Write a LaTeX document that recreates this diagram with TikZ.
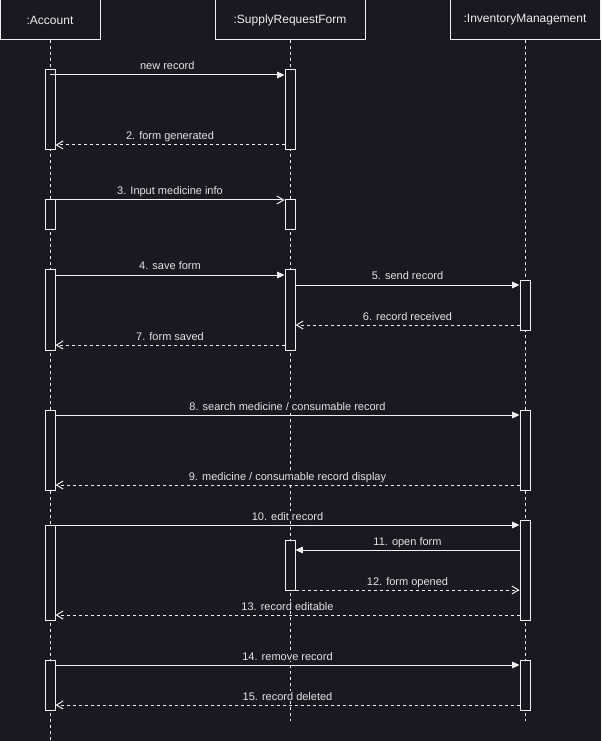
\documentclass[tikz,border=0pt]{standalone}
\usepackage{fontspec}
\setmainfont{Liberation Sans}
\usetikzlibrary{arrows.meta}
\definecolor{bg}{RGB}{26,24,32}
\definecolor{fg}{RGB}{240,240,240}
\definecolor{txt}{RGB}{228,228,228}
\tikzset{
  head/.style={draw=fg, fill=bg, line width=0.75pt, text=fg, minimum height=30pt, inner sep=0pt, font=\fontsize{9}{11}\selectfont},
  act/.style={draw=fg, fill=bg, line width=0.75pt, minimum width=7.5pt, inner sep=0pt},
  life/.style={fg, line width=0.75pt, dash pattern=on 2.25pt off 2.25pt},
  call/.style={fg, line width=0.75pt, -{Triangle[length=5.5pt,width=5pt]}},
  async/.style={fg, line width=0.75pt, -{Straight Barb[length=5pt,width=6pt]}},
  reply/.style={async, dash pattern=on 2.25pt off 2.25pt},
  lbl/.style={midway, anchor=base, yshift=3.75pt, text=txt, fill=bg, inner xsep=1pt, inner ysep=1pt, font=\fontsize{8.25}{10}\selectfont}
}
\begin{document}
\begin{tikzpicture}[x=0.75pt,y=-0.75pt]
\fill[bg] (0,0) rectangle (601,741); %background
\useasboundingbox (0,0) rectangle (601,741);

% lifeline heads
\node[head, minimum width=75pt] (acc) at (50,20) {:Account};
\node[head, minimum width=112.5pt] (srf) at (290,20) {:SupplyRequestForm};
\node[head, minimum width=112.5pt] (inv) at (525,20) {:InventoryManagement};

\coordinate (bot) at (0,741);
\coordinate (end) at (0,721);
\draw[life] (acc.south) -- (acc |- bot);
\draw[life] (srf.south) -- (srf |- end);
\draw[life] (inv.south) -- (inv |- end);

% activations
\node[act, minimum height=60pt] (a1) at (50,110) {};
\node[act, minimum height=22.5pt] (a2) at (50,215) {};
\node[act, minimum height=60pt] (a3) at (50,310) {};
\node[act, minimum height=60pt] (a4) at (50,450) {};
\node[act, minimum height=71.25pt] (a5) at (50,572.5) {};
\node[act, minimum height=37.5pt] (a6) at (50,685) {};
\node[act, minimum height=60pt] (s1) at (290,110) {};
\node[act, minimum height=22.5pt] (s2) at (290,215) {};
\node[act, minimum height=60pt] (s3) at (290,310) {};
\node[act, minimum height=37.5pt] (s4) at (290,565) {};
\node[act, minimum height=37.5pt] (i1) at (525,305) {};
\node[act, minimum height=60pt] (i2) at (525,450) {};
\node[act, minimum height=75pt] (i3) at (525,570) {};
\node[act, minimum height=37.5pt] (i4) at (525,685) {};

% message rows
\coordinate (m1) at (0,75);
\coordinate (m2) at (0,145);
\coordinate (m3) at (0,200);
\coordinate (m4) at (0,275);
\coordinate (m5) at (0,285);
\coordinate (m6) at (0,325);
\coordinate (m7) at (0,345);
\coordinate (m8) at (0,415);
\coordinate (m9) at (0,485);
\coordinate (m10) at (0,525);
\coordinate (m11) at (0,550);
\coordinate (m12) at (0,590);
\coordinate (m13) at (0,615);
\coordinate (m14) at (0,665);
\coordinate (m15) at (0,705);

\draw[call] (a1 |- m1) -- (s1.west |- m1) node[lbl] {new record};
\draw[reply] (s1.west |- m2) -- (a1.east |- m2) node[lbl] {2. form generated};
\draw[async] (a2.east |- m3) -- (s2.west |- m3) node[lbl] {3. Input medicine info};
\draw[call] (a3.east |- m4) -- (s3.west |- m4) node[lbl] {4. save form};
\draw[call] (s3.east |- m5) -- (i1.west |- m5) node[lbl] {5. send record};
\draw[reply] (i1.west |- m6) -- (s3.east |- m6) node[lbl] {6. record received};
\draw[reply] (s3.west |- m7) -- (a3.east |- m7) node[lbl] {7. form saved};
\draw[call] (a4.east |- m8) -- (i2.west |- m8) node[lbl] {8. search medicine / consumable record};
\draw[reply] (i2.west |- m9) -- (a4.east |- m9) node[lbl] {9. medicine / consumable record display};
\draw[call] (a5.east |- m10) -- (i3.west |- m10) node[lbl] {10. edit record};
\draw[call] (i3.west |- m11) -- (s4.east |- m11) node[lbl] {11. open form};
\draw[reply] (s4.east |- m12) -- (i3.west |- m12) node[lbl] {12. form opened};
\draw[reply] (i3.west |- m13) -- (a5.east |- m13) node[lbl] {13. record editable};
\draw[call] (a6.east |- m14) -- (i4.west |- m14) node[lbl] {14. remove record};
\draw[reply] (i4.west |- m15) -- (a6.east |- m15) node[lbl] {15. record deleted};
\end{tikzpicture}
\end{document}
